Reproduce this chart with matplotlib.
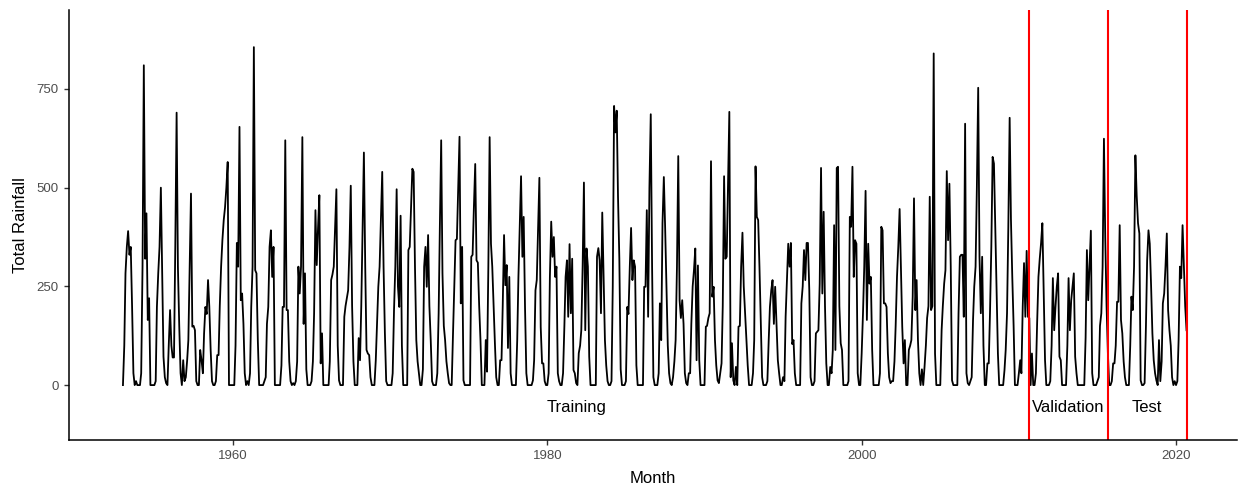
import matplotlib
matplotlib.use("Agg")
import matplotlib.pyplot as plt
import matplotlib.dates as mdates
import pandas as pd

plt.rcParams['font.family'] = ['Liberation Sans', 'DejaVu Sans']

# monthly total rainfall, one row per year (Jan..Dec), Jan 1953 - Sep 2020
rain_1950s = [
    [0, 100, 283, 350, 390, 330, 350, 200, 30, 0, 10, 0],
    [0, 0, 30, 300, 810, 320, 435, 165, 220, 0, 0, 0],
    [0, 10, 198, 283, 350, 500, 283, 72, 20, 5, 0, 100],
    [190, 100, 70, 70, 350, 690, 300, 150, 30, 0, 63, 10],
    [20, 63, 114, 300, 485, 148, 150, 139, 10, 0, 0, 89],
    [63, 30, 130, 198, 180, 266, 198, 89, 10, 0, 0, 10],
    [76, 76, 200, 300, 367, 418, 450, 500, 565, 0, 0, 0],
]
rain_1960s = [
    [0, 0, 100, 360, 300, 654, 215, 232, 155, 30, 0, 10],
    [0, 30, 198, 300, 856, 291, 283, 114, 0, 0, 0, 0],
    [10, 20, 155, 198, 350, 392, 274, 350, 0, 0, 0, 0],
    [0, 50, 198, 198, 620, 190, 190, 60, 10, 0, 5, 0],
    [10, 60, 300, 232, 300, 628, 155, 283, 40, 0, 0, 0],
    [10, 60, 182, 443, 304, 400, 481, 55, 131, 0, 0, 0],
    [0, 0, 60, 266, 280, 300, 400, 496, 100, 12, 0, 0],
    [0, 173, 200, 220, 240, 350, 505, 200, 60, 0, 0, 0],
    [119, 63, 200, 400, 589, 300, 89, 80, 76, 20, 0, 0],
    [0, 63, 150, 249, 300, 420, 540, 300, 131, 10, 0, 0],
]
rain_1970s = [
    [0, 0, 30, 190, 300, 496, 250, 198, 429, 100, 0, 0],
    [0, 0, 342, 350, 450, 548, 540, 300, 114, 60, 30, 0],
    [0, 40, 300, 350, 249, 380, 200, 114, 10, 0, 0, 0],
    [30, 182, 400, 620, 283, 150, 114, 60, 30, 5, 0, 0],
    [131, 250, 367, 370, 500, 629, 207, 350, 12, 0, 0, 0],
    [0, 0, 325, 330, 450, 560, 316, 310, 200, 114, 0, 0],
    [0, 114, 34, 300, 628, 358, 300, 200, 104, 20, 0, 0],
    [63, 63, 200, 380, 253, 304, 94, 274, 30, 0, 0, 0],
    [0, 114, 274, 400, 529, 325, 426, 198, 30, 0, 0, 0],
    [0, 12, 63, 240, 266, 400, 525, 147, 55, 55, 10, 0],
]
rain_1980s = [
    [0, 30, 274, 414, 325, 375, 274, 300, 30, 10, 0, 0],
    [30, 150, 274, 316, 173, 357, 182, 320, 38, 30, 5, 0],
    [81, 100, 139, 300, 513, 139, 346, 300, 72, 0, 0, 0],
    [0, 0, 325, 347, 316, 182, 437, 274, 114, 50, 10, 0],
    [0, 10, 250, 707, 640, 695, 477, 320, 40, 0, 0, 0],
    [10, 198, 180, 300, 398, 266, 316, 300, 50, 0, 0, 0],
    [0, 0, 249, 249, 443, 173, 500, 686, 300, 20, 0, 0],
    [0, 30, 207, 114, 410, 527, 400, 250, 100, 30, 5, 0],
    [20, 60, 114, 300, 580, 215, 170, 215, 155, 30, 5, 0],
    [30, 30, 155, 250, 291, 346, 63, 303, 63, 0, 0, 0],
]
rain_1990s = [
    [0, 148, 150, 170, 182, 567, 224, 249, 114, 50, 12, 5],
    [30, 55, 200, 529, 320, 325, 500, 692, 20, 106, 12, 0],
    [46, 0, 148, 150, 300, 386, 250, 182, 114, 50, 0, 0],
    [0, 30, 114, 554, 426, 418, 300, 155, 20, 0, 0, 0],
    [10, 114, 198, 240, 266, 155, 249, 155, 63, 30, 0, 0],
    [20, 10, 173, 266, 358, 300, 360, 104, 114, 30, 0, 0],
    [0, 0, 207, 250, 342, 266, 360, 360, 240, 20, 0, 0],
    [10, 131, 135, 139, 257, 550, 232, 439, 200, 55, 0, 0],
    [46, 30, 89, 405, 89, 550, 553, 200, 106, 89, 0, 0],
    [0, 0, 10, 426, 401, 553, 274, 367, 358, 30, 0, 0],
]
rain_2000s = [
    [80, 182, 300, 492, 165, 358, 257, 274, 89, 0, 0, 0],
    [0, 0, 30, 401, 392, 207, 207, 198, 80, 20, 5, 10],
    [10, 60, 150, 274, 350, 446, 300, 148, 55, 114, 0, 0],
    [89, 100, 114, 224, 473, 190, 266, 114, 30, 0, 40, 0],
    [46, 100, 170, 200, 477, 190, 200, 840, 80, 0, 0, 0],
    [0, 139, 200, 257, 291, 542, 367, 510, 300, 12, 0, 0],
    [0, 0, 182, 325, 330, 330, 173, 662, 30, 5, 0, 10],
    [20, 165, 249, 300, 500, 753, 325, 182, 325, 100, 0, 0],
    [55, 55, 182, 350, 578, 561, 400, 224, 80, 0, 0, 0],
    [0, 38, 89, 182, 400, 677, 420, 274, 150, 0, 0, 0],
]
rain_2010s = [
    [30, 63, 30, 200, 309, 173, 340, 173, 170, 0, 80, 0],
    [0, 30, 155, 274, 320, 360, 410, 240, 63, 0, 0, 0],
    [10, 100, 271, 139, 198, 250, 283, 72, 63, 0, 0, 0],
    [0, 100, 271, 139, 215, 250, 283, 72, 30, 0, 0, 0],
    [0, 0, 0, 120, 342, 215, 300, 391, 30, 0, 0, 0],
    [10, 20, 150, 182, 300, 624, 375, 200, 80, 0, 0, 10],
    [55, 55, 100, 211, 211, 405, 165, 131, 60, 20, 0, 0],
    [0, 100, 224, 190, 300, 582, 480, 410, 384, 12, 0, 0],
    [5, 150, 316, 392, 358, 250, 131, 63, 30, 12, 0, 114],
    [10, 60, 207, 232, 300, 384, 190, 139, 100, 20, 0, 10],
]
rain_2020 = [0, 10, 114, 300, 271, 405, 300, 200, 139]

split_dates = ['2010-09-01', '2015-09-01', '2020-09-01']
segment_labels = ['Training', 'Validation', 'Test']

rainfall = []
for decade in [rain_1950s, rain_1960s, rain_1970s, rain_1980s, rain_1990s, rain_2000s, rain_2010s]:
    for year in decade:
        rainfall.extend(year)
rainfall.extend(rain_2020)

months = pd.date_range('1953-01-01', periods=len(rainfall), freq='MS')
splits = pd.to_datetime(split_dates)

fig = plt.figure(figsize=(12.43, 4.86), dpi=100)
ax = fig.add_axes([0.0555, 0.0947, 0.9395, 0.8847])

ax.plot(months, rainfall, color='black', lw=1.3)
for d in splits:
    ax.axvline(d, color='red', lw=1.5)

# segment labels sit in the middle of each period
starts = [months[0]] + list(splits[:-1])
for lab, s, e in zip(segment_labels, starts, splits):
    ax.text(s + (e - s) / 2, -58, lab, ha='center', va='center', fontsize=12)

ax.set_xlim(pd.Timestamp('1949-07-27'), pd.Timestamp('2023-11-13'))
ax.set_ylim(-139, 950)
ax.set_yticks([0, 250, 500, 750])
ax.xaxis.set_major_locator(mdates.YearLocator(20))
ax.xaxis.set_major_formatter(mdates.DateFormatter('%Y'))

for side in ['top', 'right']:
    ax.spines[side].set_visible(False)
for side in ['left', 'bottom']:
    ax.spines[side].set_linewidth(1.1)
ax.tick_params(length=3.5, width=1.0, color='#333333', labelsize=9.5, labelcolor='#4D4D4D', pad=4)

ax.set_xlabel('Month', fontsize=12, labelpad=6)
ax.set_ylabel('Total Rainfall', fontsize=12, labelpad=6)

fig.savefig('out.png', dpi=100)
